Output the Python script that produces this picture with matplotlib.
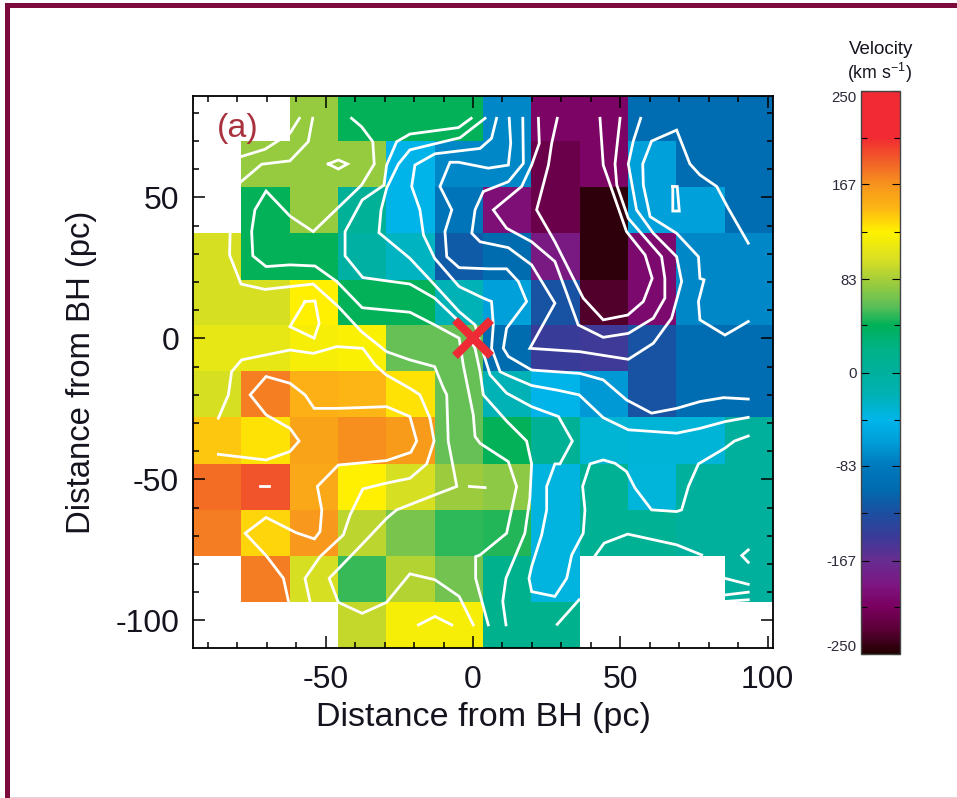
"""
Velocity map with contours around the BH, panel (a).
"""

import numpy as np
import matplotlib
matplotlib.use("Agg")
import matplotlib.pyplot as plt
from matplotlib.colors import LinearSegmentedColormap
from matplotlib.patches import Rectangle

plt.rcParams['font.family'] = ['Liberation Sans', 'DejaVu Sans']
plt.rcParams['axes.unicode_minus'] = False
plt.rcParams['mathtext.default'] = 'regular'

# Velocity per cell, top row first (nan = no data)
n = np.nan
fila_0 = [n, n, 78, 42, 42, 42, -75, -205, -205, -100, -100, -100]
fila_1 = [n, 78, 78, 78, -42, -75, -75, -218, -205, -60, -100, -100]
fila_2 = [n, 42, 78, 5, -42, -90, -195, -218, -245, -60, -60, -100]
fila_3 = [100, 42, 42, -3, -25, -116, -103, -185, -245, -200, -75, -75]
fila_4 = [100, 100, 125, 42, 42, -20, -60, -122, -232, -200, -75, -75]
fila_5 = [110, 110, 120, 122, 62, 62, -103, -145, -148, -122, -100, -100]
fila_6 = [100, 175, 150, 147, 130, 62, -20, -42, -65, -122, -100, -100]
fila_7 = [140, 130, 158, 168, 163, 62, 42, 8, -33, -35, -35, 0]
fila_8 = [182, 192, 155, 125, 100, 80, 75, -38, 10, -36, 0, 0]
fila_9 = [176, 135, 165, 90, 68, 50, 48, -38, 10, 10, 0, 0]
fila_10 = [n, 176, 100, 52, 87, 66, 14, -38, n, n, n, 0]
fila_11 = [n, n, n, 93, 120, 120, 14, 14, n, n, n, n]

# Cell edges (pc)
bordes_x = [-95.0, -78.6, -62.2, -45.8, -29.4, -13.0, 3.4, 19.8, 36.2, 52.6, 69.0, 85.4, 101.8]
bordes_y = [86.3, 70.0, 53.7, 37.3, 20.9, 4.7, -11.7, -28.0, -44.5, -60.8, -77.1, -93.4, -109.8]

# Contour lines (x, y in pc)
contorno_a = [(-78.7, 64.5), (-70.6, 67.1), (-62.1, 72.8), (-58.9, 78.1)]
contorno_b = [(-78.7, 55.6), (-71.7, 61.8), (-62.1, 63), (-55.9, 69.8), (-54.4, 78.1)]
contorno_c = [(-49.1, 61.9), (-45.7, 63.3), (-42.6, 61.9), (-45.7, 60.1), (-49.1, 61.9)]
contorno_d = [(-41.2, 78.1), (-37.8, 75.1), (-34, 69.8), (-33.5, 61.9), (-37.8, 54.4), (-54.2, 37.9),
              (-62.1, 43.4), (-70.2, 52.3), (-74, 45.6), (-75.1, 37.9), (-74.7, 29.3), (-70.2, 25.5),
              (-62.1, 26.1), (-53.6, 25.7), (-46.2, 20.2), (-37.6, 10.9), (-21.4, 9.3), (-13, 4.8),
              (-4.7, 0.1), (-3.3, -9.4), (0.1, -27.1), (0.7, -34.8), (2.4, -37.2), (12, -43.7),
              (14.8, -52.5), (11.4, -69.1), (2.4, -76.8), (0.9, -77.4), (0.9, -85.1), (5.2, -101.6)]
contorno_e = [(-0.6, 78.1), (-4.9, 74.8), (-21.4, 72.5), (-25.9, 69.8), (-29.3, 61.5), (-30.2, 54.4),
              (-37.6, 49.1), (-43.4, 37.9), (-43.4, 29.3), (-37.4, 21.6), (-21.4, 19.3), (-13, 14.3),
              (-4.7, 6), (0.7, -3.5), (2.4, -11.8), (3.5, -20), (11.4, -29.3), (18.2, -36.4),
              (19.9, -44.5), (19.3, -56.7), (17.6, -69.1), (11.2, -85.1), (10.1, -93.3), (11.2, -101.6)]
contorno_f = [(4.1, 78.1), (-4.4, 71.2), (-12.3, 69.2), (-21.4, 66.9), (-25.3, 61.9), (-29.3, 53.3),
              (-31.2, 45.6), (-31.9, 37.5), (-21.4, 28.4), (-13, 19), (-4.7, 9.5), (0.7, 4.8),
              (3, -3.5), (5.8, -12.9), (11.4, -19.4), (19.9, -24.2), (29, -27.7), (33.7, -36.4),
              (29.5, -44.5), (27.8, -44.5), (25, -52.5), (25, -60.8), (23.3, -69.7), (19.9, -80.9),
              (19, -85.1), (19.9, -89.8), (27.8, -91.5), (31.8, -85.1), (33.5, -76.8), (37.4, -69.1),
              (38, -60.8), (37.2, -52.5), (39.7, -44.5), (44.2, -43.1), (48.2, -44.3), (52.1, -47.2),
              (55, -53.1), (60.6, -60.8), (69.1, -61.4), (70.8, -60.8), (73.1, -52.5), (76.5, -44.5),
              (85.5, -38.9), (88.7, -36.4), (93.4, -34.6)]
contorno_h = [(8, 78.1), (6.3, 71), (2.4, 67.4), (-12.9, 65.5), (-19.7, 61.5), (-20.8, 53.9),
              (-18, 45.6), (-16.8, 36.7), (-13, 28.4), (-4.7, 18.4), (3.5, 14.3), (6.3, 13.1),
              (6.9, 4.8), (6.3, -3.5), (9.2, -11.8), (11.4, -12.9), (19.9, -16.7), (28.4, -18.3),
              (36, -20), (44.2, -28.1), (52.7, -32.4), (69.1, -33.6), (77, -31.9), (85.5, -29.5),
              (93.4, -28)]
contorno_g = [(12.3, 78.1), (12.8, 69.2), (12, 61.5), (5.2, 60.4), (-4.9, 62.5), (-7.8, 62.5),
              (-11.2, 53.9), (-7.2, 45.6), (-9.5, 37.9), (-8.9, 29), (-4.7, 25.1), (5.2, 24.7),
              (11.4, 24.7), (15.4, 20.2), (18.2, 13.1), (11.4, 3.6), (10.3, -3.5), (12, -6.4),
              (19.9, -11.2), (36.3, -12.4), (44.2, -14.7), (52.1, -21.8), (60.6, -26.5), (69.1, -24.8),
              (77, -22.4), (85, -21), (93.4, -21.5)]
contorno_u3 = [(16.9, 78.1), (17.1, 62.1), (12, 55.6), (3.5, 52.1), (0.7, 45.6), (-0.4, 37.3),
               (2.4, 34.3), (12, 32.2), (19.9, 26.1), (27.8, 12.5), (19.3, -3.5), (36.3, -4.7),
               (52.7, -7.4), (61.2, -1.7), (67.4, 7.2), (70.8, 20.2), (69.1, 29), (61.2, 37.3),
               (55.5, 45.6), (52.7, 61.9), (54.4, 70), (56.9, 78.1)]
contorno_u2 = [(22.2, 78.1), (22.5, 69.2), (19.9, 61.5), (16.5, 53.9), (6.9, 45.6), (11.4, 39.1),
               (19.9, 34.3), (27.8, 27.3), (31.8, 16), (35.7, 4.8), (44.2, 0.4), (52.7, 1.8),
               (61.2, 7.2), (65.1, 14.3), (65.1, 21.3), (64, 29), (52.7, 42.6), (48.8, 54.4),
               (48.2, 61.9), (49.9, 78.1)]
contorno_u1 = [(28.6, 78.1), (26.7, 69.2), (25.6, 61.5), (21.6, 45.6), (27.8, 34.3), (37.4, 14.3),
               (44.2, 6.6), (52.5, 8.3), (57.8, 13.1), (60.8, 21.3), (58.4, 29.6), (52.1, 37.9),
               (44.2, 61.5), (43.1, 78.1)]
contorno_azul = [(93.4, 33.8), (86.6, 46.2), (82.7, 53.9), (77, 58), (73.6, 61.9), (69.1, 73.9),
                 (60.6, 70), (57.6, 61.9), (57.8, 54.4), (60.1, 43.2), (69.1, 37.3), (76.5, 29),
                 (77, 21.3), (78.4, 20.8), (76.5, 13.1), (77, 6.6), (85.5, 1.2), (93.4, 6)]
contorno_rect = [(67.8, 53.9), (69.3, 53.9), (70, 45.2), (67.8, 45.2), (67.8, 53.9)]
contorno_i = [(-82.4, 37.3), (-82.6, 29.6), (-78.7, 19.3), (-70.6, 17.4), (-54.2, 19.3), (-45.7, 11.3),
              (-37.8, 2.4), (-29.3, -4.7), (-21.4, -7.6), (-13, -10), (-10, -17.7), (-8.9, -20),
              (-8.4, -36.4), (-5.5, -52.5), (-13, -55.5), (-25.9, -60.8), (-29.3, -63.8), (-37.8, -73.2),
              (-48.8, -85.1), (-45.7, -93.6), (-37.6, -97.5), (-29.3, -93.6), (-21.4, -83.5),
              (-12.9, -85.6), (-4.7, -91.5), (0.1, -101.6)]
contorno_j = [(-57, 13.1), (-53.6, 13.3), (-52.2, 5.4), (-53.9, 0.1), (-62.1, 4.2), (-57, 13.1)]
contorno_k = [(-86.4, -28.3), (-83, -20), (-81.9, -11.8), (-78.5, -7.6), (-62.1, -4.1), (-54.2, -5.3),
              (-46.2, -2.9), (-37.4, -3.5), (-33.2, -9.4), (-29.5, -12.9), (-21.4, -17.7), (-18, -20),
              (-14.6, -28.3), (-13.2, -36.4), (-15.7, -44.5), (-21.4, -49.6), (-29.8, -51.4),
              (-37.4, -53.4), (-41.7, -62.6), (-44, -69.7), (-51.9, -77.4), (-57, -85.1), (-55.3, -93.3)]
contorno_l = [(-86.4, -41.1), (-70.2, -43.1), (-62.1, -40.1), (-59, -36.4), (-62.1, -31.9), (-70.2, -27.1),
              (-75.6, -20), (-70.2, -13.5), (-62.1, -15.9), (-57, -20), (-53.9, -24.8), (-45.7, -24.8),
              (-29.3, -24.2), (-21.4, -27.7), (-19.1, -36.4), (-21.1, -40.4), (-29.3, -43.3), (-45.7, -44.9),
              (-52.8, -52.5), (-51.3, -60.8), (-51.9, -68.5), (-53.8, -71.1), (-60, -68.9), (-70.2, -63.5),
              (-77.3, -69.1), (-70.2, -77), (-64.3, -85.1), (-62.6, -93.3)]
contorno_m = [(-72.3, -52.5), (-69.1, -52.5)]
contorno_n = [(-1.2, -52.5), (4.1, -52.9)]
contorno_o = [(-18.5, -101.6), (-12.9, -98.6), (-7.2, -101.6)]
contorno_p = [(28.6, -101.4), (36, -92.7)]
contorno_q = [(41.4, -77.1), (44.5, -72.6), (52.5, -69.4), (69.1, -73.2), (77.6, -76.8)]
contorno_r = [(85.5, -85.1), (93.4, -87.2)]
contorno_s = [(85.5, -91), (93.4, -90)]
contorno_t = [(85.5, -93.3), (93.4, -92.7)]
contorno_v = [(93.4, -75), (91.2, -77), (93.4, -79.4)]

# Colour scale
escala_valores = [-250, -229, -208, -190, -167, -146, -125, -104, -83, -62, -42, -20, 0, 20, 42,
                  60, 83, 100, 125, 145, 167, 190, 209, 250]
escala_colores = ['#200000', '#5a0035', '#7a0060', '#7e1580', '#662d91', '#3a3a98', '#1b4fa0', '#006bb0',
                  '#0079bd', '#009ed9', '#00b5e9', '#00b2b5', '#00b09e', '#00b288', '#00b159',
                  '#60bf58', '#a6ce39', '#d7df23', '#fff200', '#fdb913', '#f7941d', '#f15a29', '#f12a33', '#f12a33']

marcas_barra = [250, 167, 83, 0, -83, -167, -250]
marcas_menores_barra = [208, 125, 42, -42, -125, -208]

Z = np.array([fila_0, fila_1, fila_2, fila_3, fila_4, fila_5,
              fila_6, fila_7, fila_8, fila_9, fila_10, fila_11])
pos = [(v + 250) / 500 for v in escala_valores]
cmap = LinearSegmentedColormap.from_list("velocidad", list(zip(pos, escala_colores)), N=512)

W, H = 957, 798
fig = plt.figure(figsize=(W / 100, H / 100), dpi=100)


def caja(x0, y0, x1, y1):
    """Pixel box to figure fractions."""
    return [x0 / W, 1 - y1 / H, (x1 - x0) / W, (y1 - y0) / H]


# Page frame
fig.add_artist(Rectangle((5 / W, 0), 5 / W, 1 - 3 / H, transform=fig.transFigure, color='#7d0a3c', lw=0))
fig.add_artist(Rectangle((5 / W, 1 - 8 / H), 1, 5 / H, transform=fig.transFigure, color='#7d0a3c', lw=0))
fig.add_artist(Rectangle((10 / W, 0), 1, 1.5 / H, transform=fig.transFigure, color='#e4d6dc', lw=0))

ax = fig.add_axes(caja(193, 96, 773, 648))
malla = ax.pcolormesh(bordes_x, bordes_y, Z, cmap=cmap, vmin=-250, vmax=250, linewidth=0, rasterized=True)

contornos = [contorno_a, contorno_b, contorno_c, contorno_d, contorno_e, contorno_f, contorno_h,
             contorno_g, contorno_u3, contorno_u2, contorno_u1, contorno_azul, contorno_rect,
             contorno_i, contorno_j, contorno_k, contorno_l, contorno_m, contorno_n, contorno_o,
             contorno_p, contorno_q, contorno_r, contorno_s, contorno_t, contorno_v]
for linea in contornos:
    xs, ys = zip(*linea)
    ax.plot(xs, ys, color='white', lw=2.0, solid_joinstyle='miter', zorder=3)

ax.plot([0], [0], marker='x', color='#ee2a35', ms=26, mew=6, zorder=5, ls='none')
ax.text(-87, 74.5, "(a)", color='#a8323e', fontsize=24.5, va='center', ha='left')

ax.set_xlim(-95, 101.8)
ax.set_ylim(-109.8, 86.0)
ax.set_xticks([-50, 0, 50, 100])
ax.set_yticks([50, 0, -50, -100])
ax.set_xticks(np.arange(-90, 101, 10), minor=True)
ax.set_yticks(np.arange(-100, 81, 10), minor=True)
ax.tick_params(which='major', direction='in', length=8.5, width=1.1, top=True, right=True,
               labelsize=23, labelcolor='#14141e')
ax.tick_params(axis='x', which='major', pad=12)
ax.tick_params(axis='y', which='major', pad=10)
ax.tick_params(which='minor', direction='in', length=4.5, width=1.1, top=True, right=True)
for lado in ax.spines.values():
    lado.set_linewidth(1.3)
ax.set_xlabel("Distance from BH (pc)", fontsize=24.5, color='#14141e', labelpad=5)
ax.set_ylabel("Distance from BH (pc)", fontsize=23.7, color='#14141e', labelpad=13)

# Colour bar
cax = fig.add_axes(caja(861, 91, 900, 654))
barra = fig.colorbar(malla, cax=cax)
barra.outline.set_linewidth(1.0)
barra.outline.set_edgecolor('#444444')
cax.yaxis.set_ticks_position('left')
cax.set_yticks(marcas_barra)
cax.set_yticks(marcas_menores_barra, minor=True)
cax.tick_params(which='major', direction='in', length=6, width=0.8, left=True, right=True,
                labelsize=10.8, pad=3, labelcolor='#2a2a3a')
cax.tick_params(which='minor', direction='in', length=4, width=0.8, left=True, right=True)
etiquetas = cax.get_yticklabels()
etiquetas[0].set_va('top')
etiquetas[-1].set_va('bottom')

fig.text(881 / W, 1 - 49 / H, "Velocity", fontsize=13.5, ha='center', va='center', color='#14141e')
fig.text(880 / W, 1 - 73 / H, "(km s$^{-1}$)", fontsize=12.8, ha='center', va='center', color='#14141e')

plt.savefig("out.png", dpi=100)
